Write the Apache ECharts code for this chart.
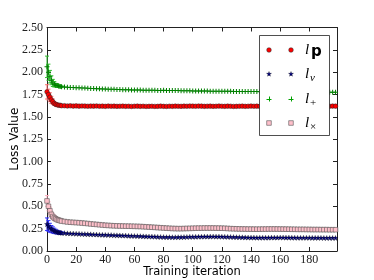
<!DOCTYPE html>
<html><head><meta charset="utf-8">
<script src="https://cdn.jsdelivr.net/npm/echarts@6/dist/echarts.min.js"></script>
<style>html,body{margin:0;padding:0;background:#fff}#c{width:374px;height:280px}</style>
</head><body><div id="c"></div>
<script>
var iterations = [0,1,2,3,4,5,6,7,8,9,10,
 12,14,16,18,20,22,24,26,28,30,
 32,34,36,38,40,42,44,46,48,50,
 52,54,56,58,60,62,64,66,68,70,
 72,74,76,78,80,82,84,86,88,90,
 92,94,96,98,100,102,104,106,108,110,
 112,114,116,118,120,122,124,126,128,130,
 132,134,136,138,140,142,144,146,148,150,
 152,154,156,158,160,162,164,166,168,170,
 172,174,176,178,180,182,184,186,188,190,
 192,194,196,198];
var xTicks = [0,20,40,60,80,100,120,140,160,180];
var yTicks = [0,0.25,0.5,0.75,1,1.25,1.5,1.75,2,2.25,2.5];

var lossP = [1.78,1.75,1.72,1.69,1.67,1.65,1.64,1.635,1.63,1.63,1.625,
 1.625,1.622,1.624,1.621,1.623,1.620,1.622,1.621,1.619,1.621,
 1.620,1.622,1.619,1.620,1.618,1.621,1.619,1.620,1.618,1.619,
 1.620,1.618,1.619,1.617,1.619,1.620,1.618,1.619,1.617,1.618,
 1.619,1.617,1.618,1.620,1.618,1.617,1.619,1.618,1.620,1.619,
 1.618,1.620,1.619,1.621,1.620,1.619,1.621,1.620,1.618,1.619,
 1.620,1.618,1.619,1.621,1.619,1.618,1.620,1.619,1.617,1.618,
 1.619,1.620,1.618,1.619,1.621,1.619,1.620,1.618,1.619,1.620,
 1.618,1.619,1.621,1.620,1.619,1.618,1.620,1.619,1.621,1.620,
 1.619,1.620,1.618,1.619,1.620,1.621,1.619,1.620,1.618,1.619,
 1.620,1.619,1.621,1.620];
var lossPlus = [2.06,2.00,1.95,1.91,1.88,1.865,1.855,1.85,1.845,1.84,1.838,
 1.835,1.833,1.830,1.828,1.827,1.825,1.823,1.822,1.820,1.819,
 1.818,1.816,1.815,1.813,1.812,1.810,1.809,1.808,1.807,1.806,
 1.805,1.804,1.803,1.802,1.801,1.800,1.800,1.799,1.798,1.798,
 1.797,1.797,1.796,1.796,1.797,1.796,1.795,1.795,1.794,1.794,
 1.793,1.793,1.792,1.792,1.791,1.791,1.790,1.790,1.789,1.789,
 1.788,1.788,1.788,1.787,1.787,1.786,1.786,1.786,1.785,1.785,
 1.785,1.784,1.784,1.784,1.783,1.783,1.783,1.782,1.782,1.782,
 1.781,1.781,1.781,1.781,1.780,1.780,1.780,1.780,1.779,1.779,
 1.779,1.779,1.778,1.778,1.778,1.778,1.778,1.777,1.777,1.777,
 1.777,1.777,1.776,1.776];
var lossV = [0.30,0.28,0.26,0.245,0.235,0.225,0.218,0.212,0.208,0.205,0.202,
 0.200,0.198,0.196,0.195,0.193,0.192,0.190,0.189,0.188,0.187,
 0.185,0.184,0.182,0.181,0.180,0.179,0.178,0.176,0.175,0.174,
 0.173,0.172,0.170,0.169,0.168,0.167,0.166,0.164,0.163,0.162,
 0.161,0.160,0.158,0.157,0.156,0.155,0.155,0.154,0.154,0.155,
 0.155,0.156,0.157,0.158,0.158,0.159,0.160,0.160,0.161,0.161,
 0.161,0.162,0.161,0.161,0.160,0.159,0.158,0.157,0.156,0.155,
 0.154,0.153,0.152,0.151,0.150,0.150,0.149,0.149,0.149,0.149,
 0.149,0.150,0.150,0.150,0.151,0.151,0.150,0.150,0.149,0.149,
 0.148,0.148,0.148,0.148,0.148,0.147,0.147,0.147,0.147,0.146,
 0.146,0.146,0.146,0.146];
var lossX = [0.56,0.50,0.45,0.41,0.385,0.37,0.36,0.35,0.345,0.34,0.335,
 0.330,0.325,0.322,0.320,0.318,0.316,0.313,0.310,0.307,0.303,
 0.300,0.297,0.294,0.291,0.288,0.286,0.284,0.282,0.281,0.280,
 0.279,0.278,0.278,0.277,0.276,0.275,0.274,0.272,0.270,0.268,
 0.266,0.264,0.262,0.260,0.258,0.256,0.254,0.252,0.251,0.250,
 0.250,0.251,0.252,0.253,0.254,0.255,0.256,0.256,0.257,0.257,
 0.257,0.257,0.256,0.256,0.255,0.254,0.252,0.250,0.249,0.248,
 0.247,0.246,0.246,0.245,0.245,0.244,0.244,0.244,0.245,0.245,
 0.246,0.246,0.246,0.246,0.245,0.245,0.244,0.244,0.243,0.243,
 0.242,0.242,0.242,0.241,0.241,0.240,0.240,0.240,0.239,0.239,
 0.239,0.238,0.238,0.238];
// error half-widths for the first iterations (0..10)
var errP = [0.08,0.06,0.05,0.04,0.03,0.02,0.015,0.01,0.01,0.01,0.01];
var errPlus = [0.12,0.09,0.07,0.05,0.04,0.03,0.02,0.02,0.015,0.015,0.01];
var errV = [0.07,0.06,0.05,0.04,0.035,0.03,0.025,0.02,0.02,0.015,0.015];
var errX = [0.06,0.05,0.04,0.035,0.03,0.03,0.025,0.02,0.02,0.02,0.015];

function pairs(vals){ return iterations.map(function(t,i){ return [t, vals[i]]; }); }
function errData(vals, errs){ return errs.map(function(e,i){ return [iterations[i], vals[i], e]; }); }
function errSeries(vals, errs, color){
  return {type:'custom', data: errData(vals, errs), z: 1, silent:true,
    renderItem: function(params, api){
      var x = api.value(0), y = api.value(1), e = api.value(2);
      var a = api.coord([x, y - e]), b = api.coord([x, y + e]);
      return {type:'group', children:[
        {type:'line', shape:{x1:a[0],y1:a[1],x2:b[0],y2:b[1]}, style:{stroke:color, lineWidth:1}},
        {type:'line', shape:{x1:a[0]-2,y1:a[1],x2:a[0]+2,y2:a[1]}, style:{stroke:color, lineWidth:1}},
        {type:'line', shape:{x1:b[0]-2,y1:b[1],x2:b[0]+2,y2:b[1]}, style:{stroke:color, lineWidth:1}}
      ]};
    }};
}
var STAR = 'path://M50,0 L61,35 L98,35 L68,57 L79,91 L50,70 L21,91 L32,57 L2,35 L39,35 Z';
var STAR_PTS = [[50,0],[61,35],[98,35],[68,57],[79,91],[50,70],[21,91],[32,57],[2,35],[39,35]];
var PLUS = 'path://M4,0H6V4H10V6H6V10H4V6H0V4H4Z';

var chart = echarts.init(document.getElementById('c'), null, {renderer:'canvas'});
var serif = 'Liberation Serif';
var axisCommon = {
  min:0, axisLine:{show:true, onZero:false, lineStyle:{color:'#222', width:1}},
  axisTick:{show:true, inside:true, length:4, lineStyle:{color:'#222', width:1}},
  splitLine:{show:false}
};
var legendRows = [50, 74, 99, 123];
var lx1 = 269, lx2 = 291, ltx = 305;
function mk(kind, x, y){
  if(kind==='p') return [{type:'circle', z:11, shape:{cx:x, cy:y, r:2.3}, style:{fill:'#ff0000', stroke:'#222', lineWidth:0.5}}];
  if(kind==='v') return [{type:'polygon', z:11, shape:{points: STAR_PTS.map(function(p){ return [x - 2.6 + p[0]*0.052, y - 2.5 + p[1]*0.052]; })}, style:{fill:'#000080', stroke:'#000', lineWidth:0.3}}];
  if(kind==='+') return [
    {type:'line', z:11, shape:{x1:x-2.5,y1:y+0.5,x2:x+2.5,y2:y+0.5}, style:{stroke:'#00a000', lineWidth:1}},
    {type:'line', z:11, shape:{x1:x+0.5,y1:y-2.5,x2:x+0.5,y2:y+2.5}, style:{stroke:'#00a000', lineWidth:1}}];
  return [{type:'rect', z:11, shape:{x:x-2.3, y:y-2.3, width:4.6, height:4.6}, style:{fill:'#ffc0cb', stroke:'#555', lineWidth:0.6}}];
}
var kinds = ['p','v','+','x'];
var legendEls = [{type:'rect', shape:{x:259.5, y:35.5, width:70, height:100}, style:{fill:'#fff', stroke:'#222', lineWidth:0.8}, z:10}];
kinds.forEach(function(k, i){
  var y = legendRows[i];
  legendEls = legendEls.concat(mk(k, lx1, y), mk(k, lx2, y));
  legendEls.push({type:'text', x:ltx, y:y, z:11, style:{text:'l', font:'italic 15px "Liberation Serif"', fill:'#000', verticalAlign:'middle'}});
  var sub;
  if(k==='p') sub = {type:'text', x:ltx+6, y:y+2, z:11, style:{text:'p', font:'bold 15px "DejaVu Sans"', fill:'#000', verticalAlign:'middle'}};
  else if(k==='v') sub = {type:'text', x:ltx+5, y:y+4, z:11, style:{text:'v', font:'italic 11px "Liberation Serif"', fill:'#000', verticalAlign:'middle'}};
  else if(k==='+') sub = {type:'text', x:ltx+5, y:y+4, z:11, style:{text:'+', font:'11px "Liberation Serif"', fill:'#000', verticalAlign:'middle'}};
  else sub = {type:'text', x:ltx+5, y:y+4, z:11, style:{text:'\u00d7', font:'11px "Liberation Serif"', fill:'#000', verticalAlign:'middle'}};
  legendEls.push(sub);
});

chart.setOption({
  animation:false,
  backgroundColor:'#fff',
  grid:{left:47, right:37, top:27.5, bottom:29, outerBoundsMode:'none', containLabel:false},
  xAxis:[
    Object.assign({}, axisCommon, {type:'value', position:'bottom', max:199, interval:20,
      name:'Training iteration', nameLocation:'middle', nameGap:15, nameMoveOverlap:false,
      nameTextStyle:{fontFamily:'DejaVu Sans', fontSize:11.5, color:'#000'},
      axisLabel:{show:true, margin:3, color:'#222', fontFamily:serif, fontSize:12,
        formatter:function(v){ return xTicks.indexOf(v) >= 0 ? String(v) : ''; }}}),
    Object.assign({}, axisCommon, {type:'value', position:'top', max:199, interval:20, axisLabel:{show:false}})
  ],
  yAxis:[
    Object.assign({}, axisCommon, {type:'value', position:'left', max:2.5, interval:0.25,
      name:'Loss Value', nameLocation:'middle', nameGap:26, nameMoveOverlap:false,
      nameTextStyle:{fontFamily:'DejaVu Sans', fontSize:12, color:'#000'},
      axisLabel:{show:true, margin:4, color:'#222', fontFamily:serif, fontSize:12,
        formatter:function(v){ return yTicks.indexOf(v) >= 0 ? v.toFixed(2) : ''; }}}),
    Object.assign({}, axisCommon, {type:'value', position:'right', max:2.5, interval:0.25, axisLabel:{show:false}})
  ],
  series:[
    errSeries(lossP, errP, '#ff7070'),
    errSeries(lossV, errV, '#3030ff'),
    errSeries(lossPlus, errPlus, '#30c030'),
    errSeries(lossX, errX, '#ffb0c0'),
    {type:'scatter', data:pairs(lossP), symbol:'circle', symbolSize:4.6, z:3,
      itemStyle:{color:'#ff0000', borderColor:'#222', borderWidth:0.5, opacity:1}},
    {type:'scatter', data:pairs(lossV), symbol:STAR, symbolSize:5, z:3,
      itemStyle:{color:'#000080', borderColor:'#000', borderWidth:0.3, opacity:1}},
    {type:'scatter', data:pairs(lossPlus), symbol:PLUS, symbolSize:5, z:3,
      itemStyle:{color:'#008000', opacity:1}},
    {type:'scatter', data:pairs(lossX), symbol:'rect', symbolSize:4.6, z:3,
      itemStyle:{color:'#ffc0cb', borderColor:'#555', borderWidth:0.6, opacity:1}}
  ],
  graphic: legendEls
});
</script>
</body></html>
